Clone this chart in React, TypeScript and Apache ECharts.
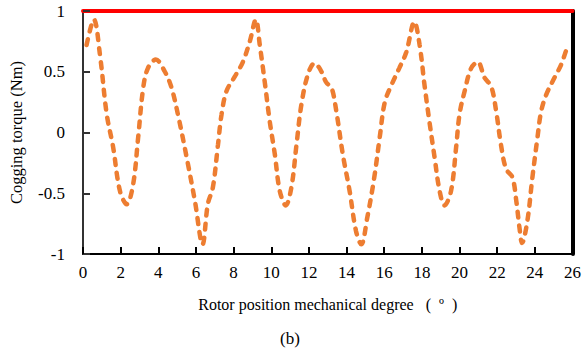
import React, { useEffect, useRef } from "react";
import * as echarts from "echarts";

const positions = [
  0.19, 0.58, 0.9, 1.26, 1.6, 1.96, 2.32, 2.66, 2.93, 3.2, 3.45, 3.87, 4.35, 4.7, 5.04, 5.5, 5.94, 6.35,
  6.63, 6.9, 7.17, 7.36, 7.62, 8.06, 8.49, 8.86, 9.18, 9.39, 9.65, 9.92, 10.19, 10.45, 10.77,
  11.07, 11.34, 11.6, 11.95, 12.3, 12.6, 12.93, 13.2, 13.46, 13.8, 14.16, 14.5, 14.78,
  15.1, 15.47, 15.76, 16.03, 16.38, 16.8, 17.17, 17.6, 17.88, 18.14, 18.4, 18.67, 18.94, 19.2,
  19.55, 19.82, 20.0, 20.27, 20.62, 20.97, 21.33, 21.68, 21.95, 22.2, 22.47, 22.81, 23.02, 23.18, 23.32,
  23.6, 23.87, 24.14, 24.33, 24.6, 25.04, 25.4, 25.71,
];
const torque = [
  0.72, 0.93, 0.64, 0.15, -0.12, -0.48, -0.59, -0.43, -0.04, 0.37, 0.53, 0.6, 0.5, 0.37, 0.15, -0.2, -0.56, -0.92,
  -0.59, -0.45, -0.1, 0.15, 0.34, 0.46, 0.58, 0.75, 0.93, 0.72, 0.42, 0.09, -0.18, -0.48, -0.6,
  -0.45, -0.1, 0.23, 0.48, 0.57, 0.52, 0.41, 0.37, 0.17, -0.18, -0.48, -0.81, -0.92,
  -0.7, -0.37, -0.04, 0.25, 0.39, 0.53, 0.66, 0.91, 0.72, 0.39, 0.09, -0.2, -0.48, -0.6,
  -0.48, -0.12, 0.15, 0.34, 0.53, 0.58, 0.45, 0.38, 0.17, -0.1, -0.3, -0.37, -0.57, -0.78, -0.91,
  -0.73, -0.37, -0.04, 0.17, 0.31, 0.45, 0.56, 0.7,
];
const xTicks = [0, 2, 4, 6, 8, 10, 12, 14, 16, 18, 20, 22, 24, 26];
const yTicks = [-1, -0.5, 0, 0.5, 1];

const FONT = "Liberation Serif";

export default function App() {
  const ref = useRef<HTMLDivElement>(null);
  useEffect(() => {
    if (!ref.current) return;
    document.body.style.margin = "0";
    const chart = echarts.init(ref.current, undefined, { renderer: "svg" });
    const data = positions.map((p, i) => [p, torque[i]]);
    chart.setOption({
      animation: false,
      grid: { left: 83, right: 11, top: 11, bottom: 106 },
      title: {
        text: "(b)",
        left: 280,
        top: 330,
        padding: 0,
        textStyle: { fontFamily: FONT, fontSize: 17, fontWeight: "normal", color: "#000" },
      },
      xAxis: [
        {
          type: "value",
          position: "bottom",
          min: xTicks[0],
          max: xTicks[xTicks.length - 1],
          interval: 2,
          name: "Rotor position mechanical degree   (  º  )",
          nameLocation: "middle",
          nameGap: 42,
          nameTextStyle: { fontFamily: FONT, fontSize: 16, color: "#000" },
          axisLine: { show: true, onZero: false, lineStyle: { color: "#000", width: 2 } },
          axisTick: { show: true, inside: true, length: 7, lineStyle: { color: "#000", width: 2 } },
          axisLabel: {
            show: true,
            fontFamily: FONT,
            fontSize: 17,
            color: "#000",
            margin: 10,
            formatter: (v: number) => (xTicks.includes(v) ? String(v) : ""),
          },
          splitLine: { show: false },
        },
        {
          type: "value",
          position: "top",
          min: xTicks[0],
          max: xTicks[xTicks.length - 1],
          interval: 2,
          axisLine: { show: true, onZero: false, lineStyle: { color: "#f00", width: 4 } },
          axisTick: { show: false },
          axisLabel: { show: false },
          splitLine: { show: false },
        },
      ],
      yAxis: [
        {
          type: "value",
          position: "left",
          min: yTicks[0],
          max: yTicks[yTicks.length - 1],
          interval: 0.5,
          name: "Cogging torque (Nm)",
          nameLocation: "middle",
          nameGap: 58,
          nameRotate: 90,
          nameTextStyle: { fontFamily: FONT, fontSize: 16.5, color: "#000" },
          axisLine: { show: true, onZero: false, lineStyle: { color: "#333", width: 2 } },
          axisTick: { show: true, inside: true, length: 7, lineStyle: { color: "#333", width: 2 } },
          axisLabel: {
            show: true,
            fontFamily: FONT,
            fontSize: 17,
            color: "#000",
            margin: 18,
            formatter: (v: number) => String(v),
          },
          splitLine: { show: false },
        },
        {
          type: "value",
          position: "right",
          min: yTicks[0],
          max: yTicks[yTicks.length - 1],
          interval: 0.5,
          axisLine: { show: true, onZero: false, lineStyle: { color: "#000", width: 4 } },
          axisTick: { show: false },
          axisLabel: { show: false },
          splitLine: { show: false },
        },
      ],
      series: [
        {
          type: "line",
          xAxisIndex: 0,
          yAxisIndex: 0,
          data,
          smooth: 0.35,
          symbol: "none",
          lineStyle: {
            color: "#ED7D31",
            width: 4.5,
            type: [6, 8],
            cap: "round",
          },
        },
      ],
    });
    return () => chart.dispose();
  }, []);
  return <div ref={ref} style={{ width: 584, height: 360 }} />;
}
